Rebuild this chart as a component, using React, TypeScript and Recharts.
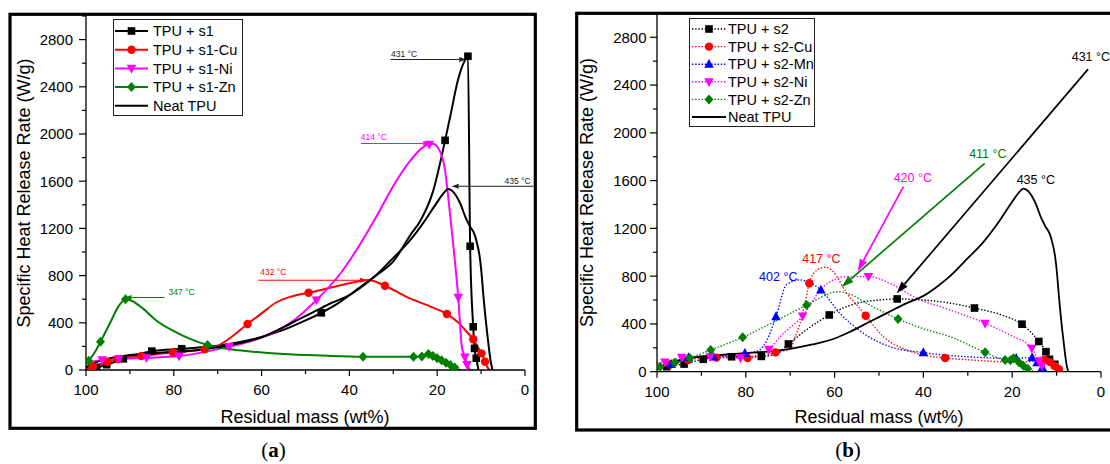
import React from 'react';
import { LineChart, Line, XAxis, YAxis, Legend, ReferenceLine, ReferenceDot } from 'recharts';

type Pt = [number, number, number?];

const X_TICKS = [100, 90, 80, 70, 60, 50, 40, 30, 20, 10, 0];
const Y_TICKS = [0, 200, 400, 600, 800, 1000, 1200, 1400, 1600, 1800, 2000, 2200, 2400, 2600, 2800, 3000];
const X_TITLE = 'Residual mass (wt%)';
const Y_TITLE = 'Specific Heat Release Rate (W/g)';

// [residual mass, HRR, marker?]
const neatTPU: Pt[] = [
  [100, 25], [97, 75], [94, 105], [90, 127], [85, 142], [80, 155], [75, 168], [70, 192], [65, 228], [60, 278],
  [56.5, 335], [52, 420], [48, 495], [44, 570], [40, 635], [37, 710], [34, 800], [30, 950], [26.5, 1085],
  [23, 1255], [20.5, 1395], [18.5, 1500], [17.5, 1533], [16.5, 1515], [14.8, 1415], [13.5, 1290], [12.5, 1215],
  [11.5, 1150], [10.9, 1070], [10.4, 980], [9.9, 820], [9.5, 640], [9.1, 480], [8.7, 340], [8.2, 180], [7.8, 70], [7.4, 0],
];

const s1: Pt[] = [
  [100, 20], [97.6, 22, 1], [95.3, 45, 1], [91.5, 95, 1], [85, 160, 1], [78.2, 180, 1], [70, 205], [62, 260],
  [55, 340], [50, 420], [46.4, 485, 1], [42, 580], [38, 690], [34, 800], [30, 920], [26, 1150], [23.9, 1260],
  [20.9, 1520], [18.2, 1946, 1], [16.9, 2172], [15.3, 2453], [14, 2600], [13, 2659, 1], [12.5, 1049, 1],
  [11.8, 366, 1], [11.5, 183, 1], [11.1, 100, 1], [10.6, 0],
];
const s1Cu: Pt[] = [
  [100, 10], [98.4, 28, 1], [95.1, 70, 1], [92.7, 92, 1], [87.4, 118, 1], [80.2, 148, 1], [73, 175, 1], [70, 205],
  [66.5, 290], [63.2, 390, 1], [60, 480], [56.8, 570], [53, 625], [49.3, 655, 1], [45, 690], [40, 735], [35.7, 762],
  [31.9, 714, 1], [27, 620], [22, 545], [17.8, 474, 1], [15, 395], [13.3, 324], [11.8, 260, 1], [10.7, 190],
  [9.9, 141, 1], [9.1, 70, 1], [8.6, 25], [8, 0],
];
const s1Ni: Pt[] = [
  [100, 60], [96.3, 85, 1], [92.5, 95, 1], [86.2, 104, 1], [78.8, 118, 1], [72, 160], [67.4, 198, 1], [62, 250],
  [56, 340], [52, 440], [47.5, 593, 1], [42, 820], [38, 1040], [34, 1290], [30, 1560], [26, 1780], [23.5, 1880],
  [21.8, 1912, 1], [21, 1918], [19.4, 1855], [18.2, 1690], [17.5, 1470], [16.3, 1045], [15.2, 615, 1], [14.4, 200],
  [13.7, 110, 1], [13.2, 45, 1], [12.5, 0],
];
const s1Zn: Pt[] = [
  [100, 50], [99.4, 78, 1], [98, 150], [96.7, 240, 1], [94.5, 400], [92.5, 545], [91, 600, 1], [89.5, 585], [87, 520],
  [84, 420], [80, 330], [76, 260], [72.3, 212, 1], [68, 180], [62, 155], [55, 135], [46, 122], [36.9, 113, 1],
  [30, 113], [25.4, 113, 1], [23.5, 115, 1], [22, 135, 1], [21, 118, 1], [20, 100, 1], [19, 82, 1], [18, 62, 1],
  [17, 42, 1], [16, 22, 1], [15.3, 8], [14.6, 0],
];

const s2: Pt[] = [
  [100, 15], [97.8, 42, 1], [93.9, 64, 1], [89.6, 104, 1], [83.2, 125, 1], [76.5, 128, 1], [73, 150], [70.4, 232, 1],
  [66, 360], [61.2, 475, 1], [55, 573], [50, 600], [45.9, 609, 1], [40, 600], [35, 580], [28.5, 533, 1], [22, 470],
  [17.8, 398, 1], [14, 253, 1], [12.4, 168, 1], [11.6, 104, 1], [10.4, 62, 1], [9.5, 30], [8.8, 0],
];
const s2Cu: Pt[] = [
  [100, 30], [97, 60, 1], [93, 98, 1], [86.6, 118, 1], [79.6, 115, 1], [73.3, 162, 1], [70, 190], [68.9, 290],
  [67.8, 405], [66.7, 570], [65.7, 740, 1], [64, 850], [62.2, 874], [60.5, 845], [59.5, 796], [57.3, 657], [55, 560],
  [53, 469, 1], [49, 293], [43.8, 182], [40, 140], [35.1, 115, 1], [28, 95], [20, 80], [15, 88], [12.8, 100, 1],
  [11.5, 80, 1], [10.5, 50, 1], [9.5, 20, 1], [8.8, 0],
];
const s2Mn: Pt[] = [
  [100, 20], [96.8, 62, 1], [92.9, 118, 1], [87.3, 123, 1], [80.2, 154, 1], [77.2, 175], [75.3, 260], [73.2, 461, 1],
  [70.8, 730], [68, 768], [65.5, 745], [63.1, 684, 1], [58.8, 489], [53.5, 321], [47.5, 209], [40, 160, 1], [30, 125],
  [19.1, 112, 1], [15.5, 118, 1], [14.4, 76, 1], [13.2, 34, 1], [12.4, 0],
];
const s2Ni: Pt[] = [
  [100, 75], [98.2, 80, 1], [94.4, 120, 1], [88, 125, 1], [81.2, 115, 1], [74.8, 187, 1], [72.3, 293], [67.2, 466, 1],
  [62.5, 712], [57.3, 796], [52.4, 797, 1], [47, 730], [41.5, 615], [34, 517], [26.1, 405, 1], [20.5, 307],
  [15.6, 196, 1], [14, 90, 1], [13.3, 50, 1], [12.8, 0],
];
const s2Zn: Pt[] = [
  [100, 30], [99.3, 42, 1], [96, 75, 1], [92.6, 115, 1], [87.9, 182, 1], [80.7, 288, 1], [73, 430], [66.3, 558, 1],
  [62, 640], [59.5, 670], [56.5, 650], [52.8, 573], [45.7, 441, 1], [40, 360], [34, 293], [26.1, 162, 1], [21.6, 98, 1],
  [20.4, 95, 1], [19.7, 112, 1], [18.5, 80, 1], [17.5, 50, 1], [16.5, 25, 1], [15.2, 0],
];

type Ann = { text?: string; color: string; from?: [number, number]; to?: [number, number]; at?: [number, number]; anchor?: string };

const ANN_A: Ann[] = [
  { text: '431 °C', color: '#222', from: [30.6, 2631], to: [13.4, 2631], at: [30.5, 2652], anchor: 'start' },
  { text: '414 °C', color: '#ff00ff', from: [37.4, 1920], to: [21.6, 1920], at: [37.4, 1945], anchor: 'start' },
  { text: '435 °C', color: '#222', from: [-1.9, 1557], to: [16.7, 1557], at: [-1.3, 1576], anchor: 'end' },
  { text: '432 °C', color: '#ff0000', from: [60.7, 761], to: [36, 761], at: [60.3, 804], anchor: 'start' },
  { text: '347 °C', color: '#008000', from: [82.1, 615], to: [91.2, 615], at: [81.2, 634], anchor: 'start' },
];
const ANN_B: Ann[] = [
  { text: '431 °C', color: '#000', from: [2.9, 2533], to: [46, 657], at: [6.6, 2602], anchor: 'start' },
  { text: '411 °C', color: '#008000', from: [26.2, 1745], to: [58.4, 710], at: [29.7, 1790], anchor: 'start' },
  { text: '420 °C', color: '#ff00ff', from: [44.5, 1549], to: [54.8, 842], at: [46.7, 1591], anchor: 'start' },
  { text: '435 °C', color: '#000', at: [19, 1572], anchor: 'start' },
  { text: '417 °C', color: '#ff0000', at: [67.3, 913], anchor: 'start' },
  { text: '402 °C', color: '#0000ff', at: [77, 760], anchor: 'start' },
];

const FONT = '"Liberation Sans", Arial, sans-serif';
const SERIF = '"Liberation Serif", "Times New Roman", serif';

type Series = { name: string; data: Pt[] | null; color: string; marker: string | null };

const SERIES_A: Series[] = [
  { name: 'TPU + s1', data: s1, color: '#000000', marker: 'square' },
  { name: 'TPU + s1-Cu', data: s1Cu, color: '#ff0000', marker: 'circle' },
  { name: 'TPU + s1-Ni', data: s1Ni, color: '#ff00ff', marker: 'down' },
  { name: 'TPU + s1-Zn', data: s1Zn, color: '#008000', marker: 'diamond' },
  { name: 'Neat TPU', data: neatTPU, color: '#000000', marker: null },
];
const SERIES_B: Series[] = [
  { name: 'TPU + s2', data: s2, color: '#000000', marker: 'square' },
  { name: 'TPU + s2-Cu', data: s2Cu, color: '#ff0000', marker: 'circle' },
  { name: 'TPU + s2-Mn', data: s2Mn, color: '#0000ff', marker: 'up' },
  { name: 'TPU + s2-Ni', data: s2Ni, color: '#ff00ff', marker: 'down' },
  { name: 'TPU + s2-Zn', data: s2Zn, color: '#008000', marker: 'diamond' },
  { name: 'Neat TPU', data: neatTPU, color: '#000000', marker: null },
];

const rows = (pts: Pt[]) => pts.map(([x, y, m]) => ({ x, y, m: m === 1 }));

const Marker = ({ kind, cx, cy, color, s = 1 }: any) => {
  switch (kind) {
    case 'square':
      return <rect x={cx - 3.8 * s} y={cy - 3.8 * s} width={7.6 * s} height={7.6 * s} fill={color} />;
    case 'circle':
      return <circle cx={cx} cy={cy} r={4.2 * s} fill={color} />;
    case 'up':
      return <polygon points={`${cx},${cy - 5.3 * s} ${cx + 4.8 * s},${cy + 3.6 * s} ${cx - 4.8 * s},${cy + 3.6 * s}`} fill={color} />;
    case 'down':
      return <polygon points={`${cx},${cy + 5.3 * s} ${cx + 4.8 * s},${cy - 3.6 * s} ${cx - 4.8 * s},${cy - 3.6 * s}`} fill={color} />;
    case 'diamond':
      return <polygon points={`${cx},${cy - 5 * s} ${cx + 4.5 * s},${cy} ${cx},${cy + 5 * s} ${cx - 4.5 * s},${cy}`} fill={color} />;
    default:
      return null;
  }
};

const makeDot = (kind: string | null, color: string) => (p: any) => {
  if (!kind || !p.payload || !p.payload.m) return <g key={`d${p.index}`} />;
  return (
    <g key={`d${p.index}`}>
      <Marker kind={kind} cx={p.cx} cy={p.cy} color={color} />
    </g>
  );
};

const makeXTick = () => (props: any) => {
  const { x, y, payload } = props;
  const v = payload.value;
  const major = v % 20 === 0;
  return (
    <g>
      <line x1={x} x2={x} y1={y} y2={y + (major ? 6 : 4)} stroke="#000" strokeWidth={1.2} />
      {major && (
        <text x={x} y={y + 25} textAnchor="middle" fontSize={15} fontFamily={FONT} fill="#000">
          {v}
        </text>
      )}
    </g>
  );
};

const makeYTick = (gap: number) => (props: any) => {
  const { x, y, payload } = props;
  const v = payload.value;
  const major = v % 400 === 0 && v <= 2800;
  return (
    <g>
      <line x1={x} x2={x - (major ? 7 : 4)} y1={y} y2={y} stroke="#000" strokeWidth={1.2} />
      {major && (
        <text x={x - gap} y={y} dy="0.36em" textAnchor="end" fontSize={15} fontFamily={FONT} fill="#000">
          {v}
        </text>
      )}
    </g>
  );
};

const arrowShape = (color: string, len: number, wid: number, sw: number) => (p: any) => {
  const x1 = Number(p.x1), y1 = Number(p.y1), x2 = Number(p.x2), y2 = Number(p.y2);
  const dx = x2 - x1, dy = y2 - y1;
  const d = Math.hypot(dx, dy) || 1;
  const ux = dx / d, uy = dy / d;
  const bx = x2 - ux * len, by = y2 - uy * len;
  return (
    <g>
      <line x1={x1} y1={y1} x2={bx} y2={by} stroke={color} strokeWidth={sw} />
      <polygon
        points={`${x2},${y2} ${bx - (uy * wid) / 2},${by + (ux * wid) / 2} ${bx + (uy * wid) / 2},${by - (ux * wid) / 2}`}
        fill={color}
      />
    </g>
  );
};

const textShape = (text: string, color: string, anchor: string, size: number) => (p: any) => (
  <text x={p.cx} y={p.cy} textAnchor={anchor as any} fontSize={size} fontFamily={FONT} fill={color}>
    {text}
  </text>
);

const LegendBox = ({ items, w, h, rowStart, rowStep, lx1, lx2, tx, dotted, solidW }: any) => (
  <svg width={w} height={h} style={{ display: 'block', overflow: 'visible' }}>
    <rect x={0.5} y={0.5} width={w - 1} height={h - 1} fill="#fff" stroke="#222" strokeWidth={1} />
    {items.map((it: Series, i: number) => {
      const y = rowStart + i * rowStep;
      const isDotted = dotted && it.marker;
      return (
        <g key={it.name}>
          <line
            x1={lx1}
            x2={lx2}
            y1={y}
            y2={y}
            stroke={it.color}
            strokeWidth={isDotted ? 1.4 : solidW}
            strokeDasharray={isDotted ? '1.4 1.8' : undefined}
          />
          {it.marker && <Marker kind={it.marker} cx={(lx1 + lx2) / 2} cy={y} color={it.color} />}
          <text x={tx} y={y} dy="0.36em" fontSize={14.5} fontFamily={FONT} fill="#000">
            {it.name}
          </text>
        </g>
      );
    })}
  </svg>
);

const Panel = ({ series, ann, width, margin, yGap, dotted, legend, headLen, headWid, annSize, annSw, lineW }: any) => (
  <LineChart width={width} height={464} margin={margin}>
    <XAxis
      type="number"
      dataKey="x"
      domain={[0, 100]}
      reversed
      ticks={X_TICKS}
      interval={0}
      height={30}
      tickSize={0}
      tickMargin={0}
      tickLine={false}
      tick={makeXTick()}
      axisLine={{ stroke: '#000', strokeWidth: 1.3 }}
      allowDataOverflow
    />
    <YAxis
      type="number"
      dataKey="y"
      domain={[0, 3000]}
      ticks={Y_TICKS}
      interval={0}
      width={60}
      tickSize={0}
      tickMargin={0}
      tickLine={false}
      tick={makeYTick(yGap)}
      axisLine={{ stroke: '#000', strokeWidth: 1.3 }}
      allowDataOverflow
    />
    {series.map((s: Series) => (
      <Line
        key={s.name}
        name={s.name}
        data={rows(s.data as Pt[])}
        dataKey="y"
        type="monotone"
        stroke={s.color}
        strokeWidth={dotted && s.marker ? 1.4 : lineW}
        strokeDasharray={dotted && s.marker ? '1.4 1.8' : undefined}
        dot={makeDot(s.marker, s.color)}
        activeDot={false}
        isAnimationActive={false}
      />
    ))}
    {ann
      .filter((a: Ann) => a.from && a.to)
      .map((a: Ann, i: number) => (
        <ReferenceLine
          key={`al${i}`}
          segment={[
            { x: a.from![0], y: a.from![1] },
            { x: a.to![0], y: a.to![1] },
          ]}
          ifOverflow="visible"
          stroke={a.color}
          shape={arrowShape(a.color, headLen, headWid, annSw)}
        />
      ))}
    {ann.map((a: Ann, i: number) => (
      <ReferenceDot
        key={`at${i}`}
        x={a.at![0]}
        y={a.at![1]}
        r={1}
        ifOverflow="visible"
        shape={textShape(a.text!, a.color, a.anchor || 'start', annSize)}
      />
    ))}
    <Legend
      layout="horizontal"
      verticalAlign="middle"
      align="center"
      wrapperStyle={{ left: legend.left, top: legend.top, width: legend.w, height: legend.h }}
      content={() => <LegendBox items={series} dotted={dotted} solidW={lineW} {...legend} />}
    />
  </LineChart>
);

export default function App() {
  return (
    <div
      style={{
        position: 'absolute',
        left: 0,
        top: 0,
        width: 1110,
        height: 464,
        overflow: 'hidden',
        background: '#fff',
      }}
    >
      <svg width={1110} height={464} style={{ position: 'absolute', left: 0, top: 0 }}>
        <rect x={10} y={14.3} width={525.3} height={414} fill="none" stroke="#000" strokeWidth={3.2} />
        <rect x={576.7} y={13.3} width={560} height={416.7} fill="none" stroke="#000" strokeWidth={3.2} />
        <text x={30} y={193} transform="rotate(-90 30 193)" textAnchor="middle" fontSize={18} fontFamily={FONT} fill="#000">
          {Y_TITLE}
        </text>
        <text x={593} y={192.5} transform="rotate(-90 593 192.5)" textAnchor="middle" fontSize={18} fontFamily={FONT} fill="#000">
          {Y_TITLE}
        </text>
        <text x={305} y={422.5} textAnchor="middle" fontSize={18} fontFamily={FONT} fill="#000">
          {X_TITLE}
        </text>
        <text x={879} y={423} textAnchor="middle" fontSize={18} fontFamily={FONT} fill="#000">
          {X_TITLE}
        </text>
        <text x={273.5} y={457} textAnchor="middle" fontSize={21} fontFamily={SERIF} fill="#000">
          (<tspan fontWeight="bold">a</tspan>)
        </text>
        <text x={848} y={457} textAnchor="middle" fontSize={21} fontFamily={SERIF} fill="#000">
          (<tspan fontWeight="bold">b</tspan>)
        </text>
      </svg>
      <div style={{ position: 'absolute', left: 0, top: 0 }}>
        <Panel
          series={SERIES_A}
          ann={ANN_A}
          width={560}
          margin={{ top: 16, right: 35, bottom: 64, left: 26 }}
          yGap={13}
          dotted={false}
          headLen={7}
          headWid={5}
          annSize={8.5}
          annSw={1.1}
          lineW={2}
          legend={{ left: 113, top: 19, w: 130, h: 97, rowStart: 12, rowStep: 18.7, lx1: 2, lx2: 35, tx: 40 }}
        />
      </div>
      <div style={{ position: 'absolute', left: 560, top: 0 }}>
        <Panel
          series={SERIES_B}
          ann={ANN_B}
          width={550}
          margin={{ top: 13.4, right: 9, bottom: 62.3, left: 37 }}
          yGap={10.5}
          dotted={true}
          headLen={12}
          headWid={8}
          annSize={12.5}
          annSw={1.7}
          lineW={1.8}
          legend={{ left: 129, top: 18, w: 126, h: 109, rowStart: 11, rowStep: 17.6, lx1: 3, lx2: 37, tx: 39 }}
        />
      </div>
    </div>
  );
}
